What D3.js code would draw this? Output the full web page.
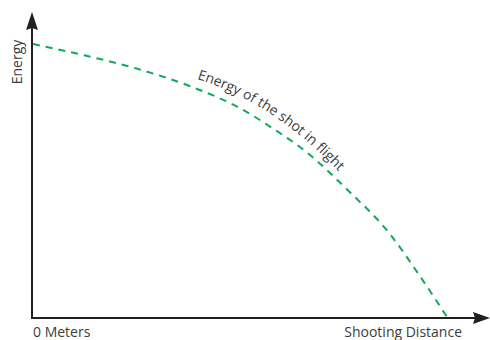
<!DOCTYPE html>
<meta charset="utf-8">
<style>
body { margin: 0; background: #fff; }
.lbl { font-family: "Open Sans", sans-serif; font-size: 14px; fill: #3c3c3c; }
</style>
<svg width="490" height="340"></svg>
<script src="https://d3js.org/d3.v7.min.js"></script>
<script>

// distance as % of shooting distance, energy as % of start
var distance = [0, 12, 25, 38, 50, 58, 66, 76, 86, 93, 100];
var energy   = [100, 96, 91, 84.5, 76.5, 69, 60.5, 46.5, 30.8, 16, 0];
var xLabels  = ["0 Meters", "Shooting Distance"];
var yLabel   = "Energy";
var curveLabel = "Energy of the shot in flight";

var svg = d3.select("svg");

var x = d3.scaleLinear().domain([0, 100]).range([33, 447]);
var y = d3.scaleLinear().domain([0, 100]).range([317, 44]);

var data = distance.map(function(d, i) { return {d: d, e: energy[i]}; });

var axisColor = "#231f20";

// axes with arrow heads
svg.append("line")
    .attr("x1", 32).attr("y1", 318).attr("x2", 32).attr("y2", 26)
    .attr("stroke", axisColor).attr("stroke-width", 2);
svg.append("line")
    .attr("x1", 31).attr("y1", 318).attr("x2", 478).attr("y2", 318)
    .attr("stroke", axisColor).attr("stroke-width", 2);

svg.append("path")
    .attr("d", "M32,12 L38,30 L32,28 L26,30 Z")
    .attr("fill", axisColor);
svg.append("path")
    .attr("d", "M490,318 L473,312 L475,318 L473,324 Z")
    .attr("fill", axisColor);

// energy curve
var line = d3.line()
    .x(function(d) { return x(d.d); })
    .y(function(d) { return y(d.e); })
    .curve(d3.curveMonotoneX);

svg.append("path")
    .datum(data)
    .attr("d", line)
    .attr("fill", "none")
    .attr("stroke", "#10a95b")
    .attr("stroke-width", 2)
    .attr("stroke-dasharray", "7,6");

// labels
svg.append("text")
    .attr("class", "lbl")
    .attr("transform", "translate(22,62) rotate(-90)")
    .attr("text-anchor", "middle")
    .text(yLabel);

svg.append("text")
    .attr("class", "lbl")
    .attr("x", 33).attr("y", 337)
    .text(xLabels[0]);

svg.append("text")
    .attr("class", "lbl")
    .attr("x", 462).attr("y", 337)
    .attr("text-anchor", "end")
    .text(xLabels[1]);

// label follows a guide just above the curve
svg.append("defs").append("path")
    .attr("id", "labelPath")
    .attr("d", "M197,79 Q280,104 352,186");

svg.append("text")
    .attr("class", "lbl")
    .append("textPath")
    .attr("href", "#labelPath")
    .text(curveLabel);

</script>
